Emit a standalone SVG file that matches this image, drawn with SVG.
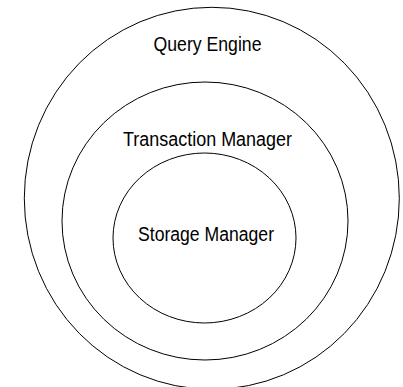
<svg xmlns="http://www.w3.org/2000/svg" width="403" height="387" viewBox="0 0 403 387">
<style>
.ring{fill:none;stroke:#000;stroke-width:1}
.lbl{font-family:"Liberation Sans",Arial,sans-serif;font-size:20px;fill:#000;text-anchor:middle}
</style>
<rect width="403" height="387" fill="#fff"/>
<g id="query-engine">
<ellipse class="ring" cx="211.8" cy="198.3" rx="187.5" ry="191"/>
<text class="lbl" x="207.5" y="51" textLength="108" lengthAdjust="spacingAndGlyphs">Query Engine</text>
</g>
<g id="transaction-manager">
<ellipse class="ring" cx="205" cy="221" rx="143" ry="139"/>
<text class="lbl" x="207.5" y="146" textLength="169" lengthAdjust="spacingAndGlyphs">Transaction Manager</text>
</g>
<g id="storage-manager">
<ellipse class="ring" cx="204.5" cy="238" rx="91.5" ry="85"/>
<text class="lbl" x="206" y="241" textLength="136" lengthAdjust="spacingAndGlyphs">Storage Manager</text>
</g>
<g id="connectors"></g>
</svg>
